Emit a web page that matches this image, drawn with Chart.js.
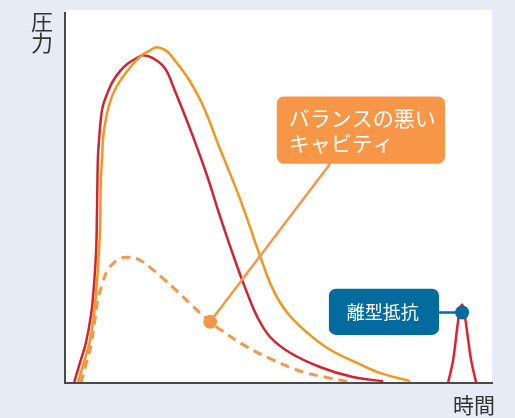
<!DOCTYPE html>
<html>
<head>
<meta charset="utf-8">
<script src="https://cdn.jsdelivr.net/npm/chart.js@4"></script>
<style>
  body { margin: 0; background: #e7ebf6; }
  canvas { display: block; }
</style>
</head>
<body>
<canvas id="pressureChart" width="515" height="418"></canvas>
<script>
// Time axis and pressure axis, both in arbitrary units (0 - 100)
const goodTime = [2.1, 3.5, 4.9, 6.1, 6.8, 7.3, 7.5, 7.7, 8.0, 8.4, 8.9, 10.1, 11.2, 12.9, 14.8, 17.1, 18.3, 20.6, 23.4, 25.5, 30.0, 33.3, 36.3, 40.3, 42.6, 45.0, 48.0, 52.7, 59.7, 67.4, 74.5];
const goodPressure = [0, 5.4, 10.8, 18.3, 26.4, 35.8, 46.6, 60.1, 65.5, 70.9, 74.4, 78.2, 80.9, 83.6, 85.7, 87.3, 87.9, 87.1, 84.4, 79.0, 66.0, 55.5, 44.7, 31.3, 24.3, 17.8, 12.4, 8.1, 4.3, 1.6, 0.5];

const badTime = [3.0, 4.4, 5.9, 7.0, 7.7, 8.2, 8.4, 8.7, 8.9, 9.6, 10.3, 11.5, 13.3, 15.7, 18.0, 19.9, 21.5, 23.9, 25.3, 28.8, 32.3, 35.8, 41.0, 45.7, 48.7, 52.0, 56.7, 62.1, 68.4, 73.8, 80.8];
const badPressure = [0, 5.4, 11.6, 20.5, 30.5, 41.2, 54.7, 60.1, 65.5, 70.9, 74.4, 78.2, 81.7, 85.2, 87.9, 89.2, 90.0, 88.9, 87.1, 81.7, 74.4, 64.2, 49.3, 34.0, 25.1, 18.9, 13.5, 8.9, 5.4, 2.7, 0.5];

const cavityTime = [3.7, 4.9, 6.1, 7.0, 7.7, 8.7, 9.8, 11.5, 12.9, 14.5, 17.1, 19.9, 23.0, 25.8, 30.0, 34.0, 36.8, 42.6, 48.7, 55.7, 62.1, 66.7];
const cavityPressure = [0, 4.9, 10.2, 17.0, 22.4, 26.4, 29.9, 32.3, 33.4, 33.7, 33.2, 31.0, 28.0, 25.1, 20.5, 16.4, 14.0, 9.7, 6.2, 3.0, 1.3, 0.3];

const releaseTime = [89.7, 90.9, 91.8, 92.5, 93.0, 93.4, 94.1, 95.1, 96.3];
const releasePressure = [0, 6.2, 14.3, 19.7, 21.0, 19.7, 14.3, 6.2, 0];

const axisLabels = ['圧力', '時間'];
const calloutLabels = [['バランスの悪い', 'キャビティ'], ['離型抵抗']];

function toPoints(xs, ys) {
    return xs.map((x, i) => ({ x: x, y: ys[i] }));
}

// Callouts, positioned in data units
const callouts = [
    { box: [49.6, 76.8, 89.0, 58.8], dot: [34.0, 16.4], joint: [62.1, 58.8], fill: '#f79646', font: '21px "Noto Sans CJK JP"', lineGap: 25, textX: 2.8 },
    { box: [61.8, 25.3, 87.6, 12.9], dot: [93.0, 18.9], joint: [87.6, 18.9], fill: '#046b9f', font: '18px "Noto Sans CJK JP"', lineGap: 0, textX: 4.2 }
];

function roundRect(c, x, y, w, h, r) {
    c.beginPath();
    c.moveTo(x + r, y);
    c.arcTo(x + w, y, x + w, y + h, r);
    c.arcTo(x + w, y + h, x, y + h, r);
    c.arcTo(x, y + h, x, y, r);
    c.arcTo(x, y, x + w, y, r);
    c.closePath();
}

const framePlugin = {
    id: 'frame',
    beforeDraw(chart) {
        const c = chart.ctx, a = chart.chartArea;
        c.save();
        c.fillStyle = '#e7ebf6';
        c.fillRect(0, 0, chart.width, chart.height);
        c.fillStyle = '#ffffff';
        c.fillRect(a.left, a.top, a.right - a.left, a.bottom - a.top);
        c.restore();
    },
    afterDatasetsDraw(chart) {
        const c = chart.ctx, a = chart.chartArea;
        const xs = chart.scales.x, ys = chart.scales.y;
        c.save();

        // axis lines
        c.strokeStyle = '#4a4a4a';
        c.lineWidth = 2;
        c.beginPath();
        c.moveTo(a.left, a.top + 2);
        c.lineTo(a.left, a.bottom);
        c.lineTo(a.right + 1, a.bottom);
        c.stroke();

        // axis titles
        c.fillStyle = '#333333';
        c.font = '22px "Noto Sans CJK JP"';
        c.textAlign = 'center';
        c.textBaseline = 'middle';
        const yTitle = axisLabels[0].split('');
        yTitle.forEach((ch, i) => c.fillText(ch, a.left - 23, a.top + 12 + i * 21));
        c.font = '21px "Noto Sans CJK JP"';
        c.fillText(axisLabels[1], a.right - 18, a.bottom + 22);

        // callouts
        callouts.forEach((co, k) => {
            const dx = xs.getPixelForValue(co.dot[0]), dy = ys.getPixelForValue(co.dot[1]);
            const jx = xs.getPixelForValue(co.joint[0]), jy = ys.getPixelForValue(co.joint[1]);
            c.strokeStyle = co.fill;
            c.lineWidth = 2.5;
            c.beginPath();
            c.moveTo(dx, dy);
            c.lineTo(jx, jy);
            c.stroke();
            c.fillStyle = co.fill;
            c.beginPath();
            c.arc(dx, dy, 7, 0, Math.PI * 2);
            c.fill();

            const bx = xs.getPixelForValue(co.box[0]), by = ys.getPixelForValue(co.box[1]);
            const bw = xs.getPixelForValue(co.box[2]) - bx, bh = ys.getPixelForValue(co.box[3]) - by;
            roundRect(c, bx, by, bw, bh, 7);
            c.fill();

            c.fillStyle = '#ffffff';
            c.font = co.font;
            c.textAlign = 'left';
            c.textBaseline = 'middle';
            const lines = calloutLabels[k];
            const tx = bx + (xs.getPixelForValue(co.textX) - xs.getPixelForValue(0));
            const cy = by + bh / 2 - (lines.length - 1) * co.lineGap / 2;
            lines.forEach((t, i) => c.fillText(t, tx, cy + i * co.lineGap));
        });
        c.restore();
    }
};

const ctx = document.getElementById('pressureChart').getContext('2d');

new Chart(ctx, {
    type: 'line',
    data: {
        datasets: [
            {
                data: toPoints(cavityTime, cavityPressure),
                borderColor: '#f7964b',
                borderWidth: 3,
                borderDash: [9, 6],
                tension: 0.4
            },
            {
                data: toPoints(badTime, badPressure),
                borderColor: '#f7941d',
                borderWidth: 2.5,
                tension: 0.4
            },
            {
                data: toPoints(goodTime, goodPressure),
                borderColor: '#d2232f',
                borderWidth: 2.5,
                tension: 0.4
            },
            {
                data: toPoints(releaseTime, releasePressure),
                borderColor: '#ec1c2a',
                borderWidth: 2.5,
                tension: 0.4
            }
        ]
    },
    options: {
        responsive: false,
        animation: false,
        clip: false,
        layout: { padding: { left: 65, right: 23, top: 10, bottom: 35 } },
        elements: { point: { radius: 0 } },
        scales: {
            x: { type: 'linear', min: 0, max: 100, display: false },
            y: { type: 'linear', min: 0, max: 100, display: false }
        },
        plugins: {
            legend: { display: false },
            tooltip: { enabled: false }
        }
    },
    plugins: [framePlugin]
});
</script>
</body>
</html>
